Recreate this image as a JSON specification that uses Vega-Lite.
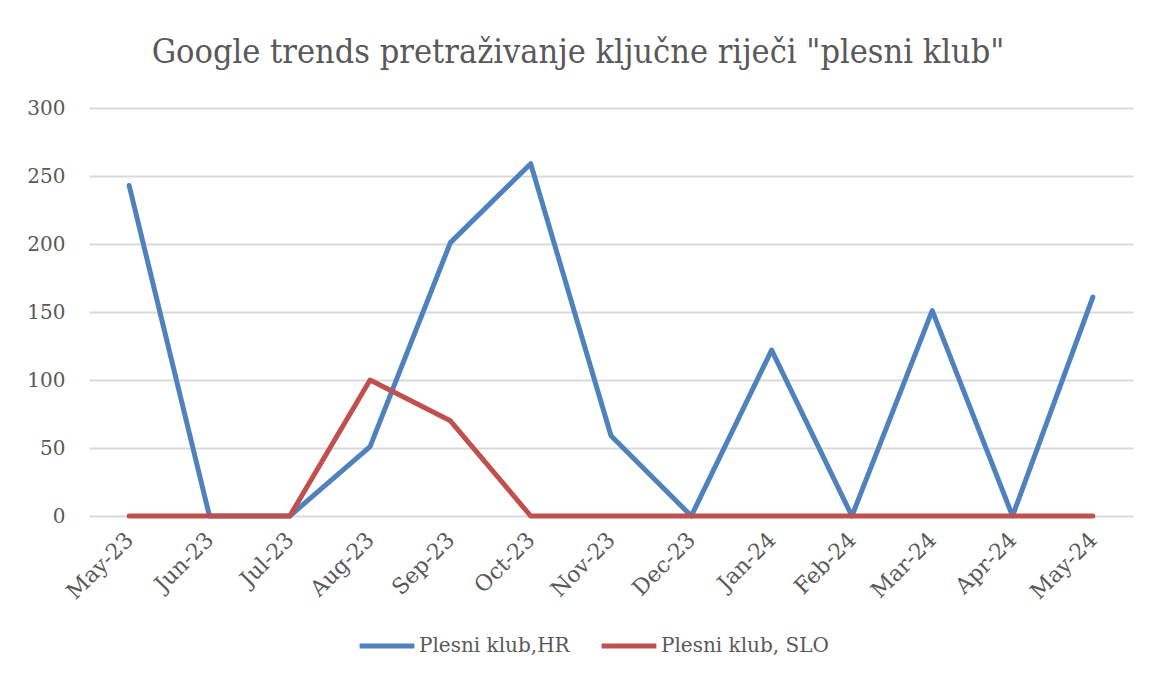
{
  "$schema": "https://vega.github.io/schema/vega-lite/v6.json",
  "width": 1044,
  "height": 408,
  "autosize": {"type": "none"},
  "padding": {"left": 89, "top": 108, "right": 16, "bottom": 151},
  "background": "white",
  "title": {
    "text": "Google trends pretraživanje ključne riječi \"plesni klub\"",
    "font": "DejaVu Serif Condensed",
    "fontSize": 34,
    "fontWeight": "normal",
    "color": "#595959",
    "anchor": "middle",
    "frame": "group",
    "dx": -33,
    "offset": 28
  },
  "data": {
    "values": [
      {"month": "May-23", "series": "Plesni klub,HR", "value": 243},
      {"month": "Jun-23", "series": "Plesni klub,HR", "value": 0},
      {"month": "Jul-23", "series": "Plesni klub,HR", "value": 0},
      {"month": "Aug-23", "series": "Plesni klub,HR", "value": 51},
      {"month": "Sep-23", "series": "Plesni klub,HR", "value": 201},
      {"month": "Oct-23", "series": "Plesni klub,HR", "value": 259},
      {"month": "Nov-23", "series": "Plesni klub,HR", "value": 59},
      {"month": "Dec-23", "series": "Plesni klub,HR", "value": 0},
      {"month": "Jan-24", "series": "Plesni klub,HR", "value": 122},
      {"month": "Feb-24", "series": "Plesni klub,HR", "value": 0},
      {"month": "Mar-24", "series": "Plesni klub,HR", "value": 151},
      {"month": "Apr-24", "series": "Plesni klub,HR", "value": 0},
      {"month": "May-24", "series": "Plesni klub,HR", "value": 161},
      {"month": "May-23", "series": "Plesni klub, SLO", "value": 0},
      {"month": "Jun-23", "series": "Plesni klub, SLO", "value": 0},
      {"month": "Jul-23", "series": "Plesni klub, SLO", "value": 0},
      {"month": "Aug-23", "series": "Plesni klub, SLO", "value": 100},
      {"month": "Sep-23", "series": "Plesni klub, SLO", "value": 70},
      {"month": "Oct-23", "series": "Plesni klub, SLO", "value": 0},
      {"month": "Nov-23", "series": "Plesni klub, SLO", "value": 0},
      {"month": "Dec-23", "series": "Plesni klub, SLO", "value": 0},
      {"month": "Jan-24", "series": "Plesni klub, SLO", "value": 0},
      {"month": "Feb-24", "series": "Plesni klub, SLO", "value": 0},
      {"month": "Mar-24", "series": "Plesni klub, SLO", "value": 0},
      {"month": "Apr-24", "series": "Plesni klub, SLO", "value": 0},
      {"month": "May-24", "series": "Plesni klub, SLO", "value": 0}
    ]
  },
  "mark": {"type": "line", "strokeWidth": 5, "strokeCap": "round", "strokeJoin": "round"},
  "encoding": {
    "x": {
      "field": "month",
      "type": "ordinal",
      "sort": null,
      "scale": {"type": "point", "padding": 0.5},
      "axis": {
        "title": null,
        "labelAngle": -45,
        "labelAlign": "right",
        "labelBaseline": "middle",
        "labelFont": "DejaVu Serif",
        "labelFontSize": 22,
        "labelColor": "#595959",
        "labelPadding": 20,
        "ticks": false,
        "domain": false,
        "grid": false
      }
    },
    "y": {
      "field": "value",
      "type": "quantitative",
      "scale": {"domain": [0, 300], "nice": false},
      "axis": {
        "title": null,
        "values": [0, 50, 100, 150, 200, 250, 300],
        "labelFont": "DejaVu Serif",
        "labelFontSize": 20,
        "labelColor": "#595959",
        "labelPadding": 24,
        "ticks": false,
        "domain": false,
        "grid": true,
        "gridColor": "#d9d9d9",
        "gridWidth": 2
      }
    },
    "color": {
      "field": "series",
      "type": "nominal",
      "sort": ["Plesni klub,HR", "Plesni klub, SLO"],
      "scale": {"domain": ["Plesni klub,HR", "Plesni klub, SLO"], "range": ["#4f81bd", "#c0504d"]},
      "legend": {
        "title": null,
        "orient": "none",
        "direction": "horizontal",
        "legendX": 268,
        "legendY": 508,
        "symbolType": "stroke",
        "symbolStrokeWidth": 5,
        "symbolSize": 3000,
        "labelFont": "DejaVu Serif",
        "labelFontSize": 20,
        "labelLimit": 0,
        "labelColor": "#595959",
        "labelOffset": 2,
        "columnPadding": 21
      }
    }
  },
  "config": {"view": {"stroke": null}}
}
